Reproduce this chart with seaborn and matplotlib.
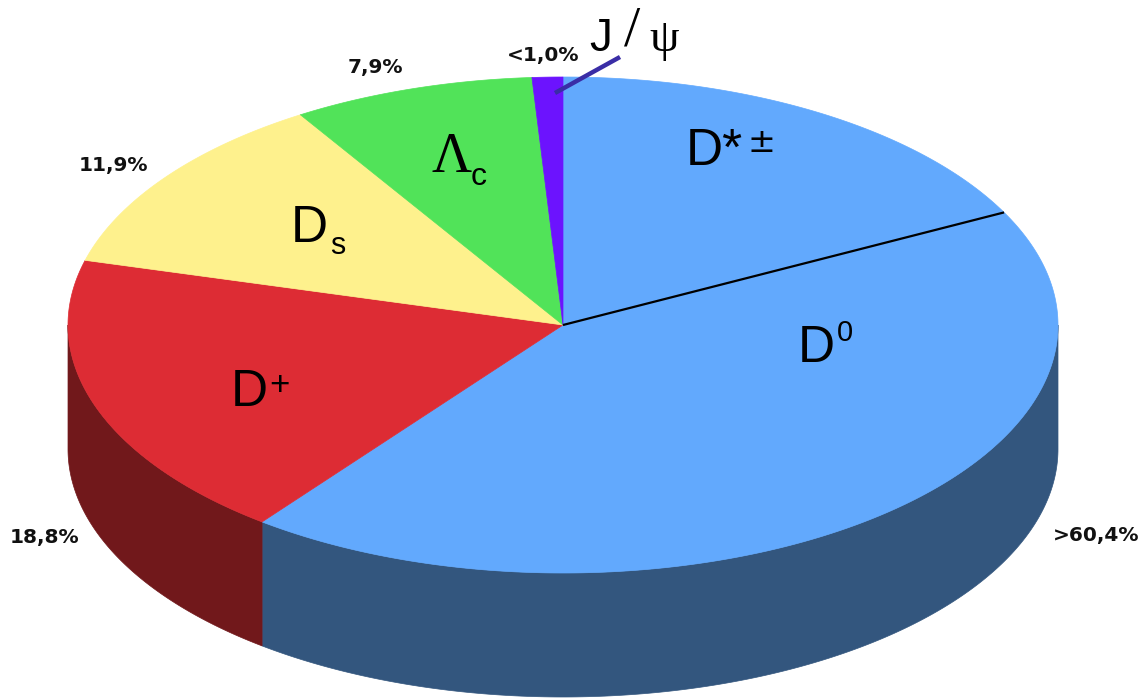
import numpy as np
import matplotlib
matplotlib.use("Agg")
import matplotlib.pyplot as plt
from matplotlib.patches import Polygon
import seaborn as sns

# Charm hadron production fractions (percent of all charm quarks)
species = ["D", "D+", "Ds", "Lambda_c", "J/psi"]
shares = [60.4, 18.8, 11.9, 7.9, 1.0]
share_labels = [">60,4%", "18,8%", "11,9%", "7,9%", "<1,0%"]
# portion of the D slice that comes from D*±
dstar_share = 17.5

top_colors = ["#62A9FD", "#DD2C34", "#FEF18D", "#51E359", "#6C13FE"]
side_colors = ["#33567E", "#71181B", "#8C8550", "#2E7F33", "#3C0B8F"]

sns.set_theme(style="white")
plt.rcParams["font.family"] = ["Liberation Sans", "DejaVu Sans"]
plt.rcParams["text.color"] = "black"

fig = plt.figure(figsize=(11.39, 6.98), dpi=100)
ax = fig.add_axes([0, 0, 1, 1])
ax.set_xlim(0, 1139)
ax.set_ylim(698, 0)
ax.axis("off")

# ellipse of the top face and thickness of the disc (pixels)
cx, cy, rx, ry, depth = 563, 325, 495, 248, 124


def rim(t_deg, dz=0.0):
    t = np.radians(t_deg)
    return np.column_stack([cx + rx * np.cos(t), cy - ry * np.sin(t) + dz])


# slice boundaries, starting at 12 o'clock and going clockwise
bounds = 90 - 3.6 * np.concatenate([[0], np.cumsum(shares)])

# side walls (only the front half, 180..360 deg, is visible)
for i in range(len(shares)):
    hi, lo = bounds[i], bounds[i + 1]
    for wlo, whi in [(-180, 0), (180, 360)]:
        a, b = max(lo, wlo), min(hi, whi)
        if b <= a:
            continue
        t = np.linspace(a, b, 200)
        pts = np.vstack([rim(t), rim(t[::-1], depth)])
        ax.add_patch(Polygon(pts, closed=True, facecolor=side_colors[i],
                             edgecolor=side_colors[i], lw=0.5, zorder=1))

# top face wedges
for i in range(len(shares)):
    hi, lo = bounds[i], bounds[i + 1]
    t = np.linspace(hi, lo, 400)
    pts = np.vstack([[cx, cy], rim(t)])
    ax.add_patch(Polygon(pts, closed=True, facecolor=top_colors[i],
                         edgecolor=top_colors[i], lw=0.5, zorder=2))

# divider between D*± and D0 inside the D slice
t_div = 90 - 3.6 * dstar_share
p = rim(t_div)[0]
ax.plot([cx, p[0]], [cy, p[1]], color="black", lw=1.6, zorder=3,
        solid_capstyle="butt")

# percentage labels around the pie
pct_pos = [(1096, 535), (45, 538), (113, 165), (375, 67), (543, 55)]
for (x, y), s in zip(pct_pos, share_labels):
    ax.text(x, y, s, ha="center", va="center", fontsize=14.5,
            fontweight="bold", family="DejaVu Sans", color="#111111", zorder=5)

# particle names on the slices
big = 37
ink = "black"
ax.text(686, 165, "D*", fontsize=big, color=ink, ha="left", va="baseline", zorder=5)
ax.text(761, 143, "±", fontsize=24, family="DejaVu Sans", color=ink,
        ha="center", va="center", zorder=5)
ax.text(798, 362, "D", fontsize=big, color=ink, ha="left", va="baseline", zorder=5)
ax.text(845, 333, "0", fontsize=21, color=ink, ha="center", va="center", zorder=5)
ax.text(231, 406, "D", fontsize=big, color=ink, ha="left", va="baseline", zorder=5)
ax.text(279, 385, "+", fontsize=25, color=ink, ha="center", va="center", zorder=5)
ax.text(291, 242, "D", fontsize=big, color=ink, ha="left", va="baseline", zorder=5)
ax.text(338, 246, "s", fontsize=22, color=ink, ha="center", va="center", zorder=5)
ax.text(431, 172, "Λ", fontsize=40, family="Liberation Serif", color=ink,
        ha="left", va="baseline", zorder=5)
ax.text(479, 177, "c", fontsize=23, color=ink, ha="center", va="center", zorder=5)

# J/psi label with its leader line to the thin slice
ax.text(589, 51, "J", fontsize=33, color=ink, ha="left", va="baseline", zorder=5)
ax.text(632, 31, "/", fontsize=42, family="Liberation Serif", color=ink,
        ha="center", va="center", zorder=5)
ax.text(664, 40, "ψ", fontsize=34, family="Liberation Serif", color=ink,
        ha="center", va="center", zorder=5)
ax.plot([555, 620], [93, 57], color="#3A2DA6", lw=3.2, zorder=4,
        solid_capstyle="butt")

fig.savefig("out.png", dpi=100, facecolor="white")
